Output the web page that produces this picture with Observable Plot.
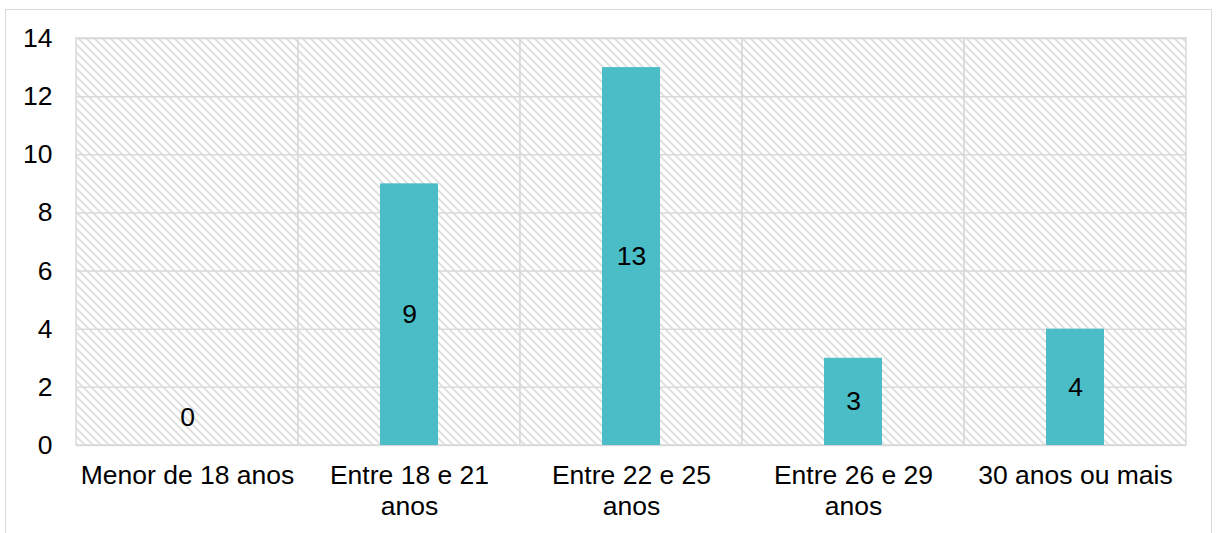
<!DOCTYPE html>
<html>
<head>
<meta charset="utf-8">
<script src="https://cdn.jsdelivr.net/npm/d3@7"></script>
<script src="https://cdn.jsdelivr.net/npm/@observablehq/plot@0.6"></script>
<style>
  html, body { margin: 0; padding: 0; background: #fff; overflow: hidden; }
  #wrap { position: relative; width: 1216px; height: 533px; }
  #border { position: absolute; left: 5px; top: 9px; width: 1207px; height: 540px; border: 1.5px solid #d9d9d9; box-sizing: border-box; }
  #chart { position: absolute; left: 0; top: 0; }
</style>
</head>
<body>
<div id="wrap"><div id="border"></div><div id="chart"></div></div>
<script>
const categories = ["Menor de 18 anos", "Entre 18 e 21 anos", "Entre 22 e 25 anos", "Entre 26 e 29 anos", "30 anos ou mais"];
const tickLabels = ["Menor de 18 anos", "Entre 18 e 21\nanos", "Entre 22 e 25\nanos", "Entre 26 e 29\nanos", "30 anos ou mais"];
const values = [0, 9, 13, 3, 4];
const yTicks = [0, 2, 4, 6, 8, 10, 12, 14];

const data = categories.map((c, i) => ({category: c, value: values[i]}));
const labelOf = new Map(categories.map((c, i) => [c, tickLabels[i]]));

const grid = "#d9d9d9";
const fs = 26.5;
const plot = Plot.plot({
  width: 1216,
  height: 533,
  marginLeft: 76,
  marginRight: 30,
  marginTop: 38,
  marginBottom: 88,
  style: {fontFamily: "'Liberation Sans', Arial, sans-serif", fontSize: fs + "px", color: "#000", background: "transparent"},
  x: {domain: categories, padding: 0, label: null},
  y: {domain: [0, 14], label: null},
  marks: [
    Plot.cell(categories, {x: d => d, fill: "url(#hatch)", stroke: grid, strokeWidth: 1.5}),
    Plot.ruleY(yTicks, {stroke: grid, strokeWidth: 1.5}),
    Plot.barY(data, {x: "category", y: "value", fill: "#4abdc6", insetLeft: 82, insetRight: 82}),
    Plot.text(data.filter(d => d.value > 0), {x: "category", y: d => d.value / 2, text: d => String(d.value), fontSize: fs, fill: "#000"}),
    Plot.text(data.filter(d => d.value === 0), {x: "category", y: "value", text: d => String(d.value), fontSize: fs, fill: "#000", dy: -28}),
    Plot.axisY({ticks: yTicks, tickSize: 0, tickPadding: 24, label: null, fontSize: fs}),
    Plot.axisX({tickSize: 0, tickPadding: 17, label: null, fontSize: fs, lineHeight: 1.15, tickFormat: d => labelOf.get(d)})
  ]
});

const svg = d3.select(plot);
const defs = svg.insert("defs", ":first-child");
const pat = defs.append("pattern")
  .attr("id", "hatch").attr("patternUnits", "userSpaceOnUse")
  .attr("width", 8).attr("height", 8);
pat.append("rect").attr("width", 8).attr("height", 8).attr("fill", "#fff");
pat.append("path").attr("d", "M-2,-2 L10,10 M-2,6 L2,10 M6,-2 L10,2")
  .attr("stroke", "#dedede").attr("stroke-width", 1.9).attr("fill", "none");

document.getElementById("chart").appendChild(plot);
</script>
</body>
</html>
